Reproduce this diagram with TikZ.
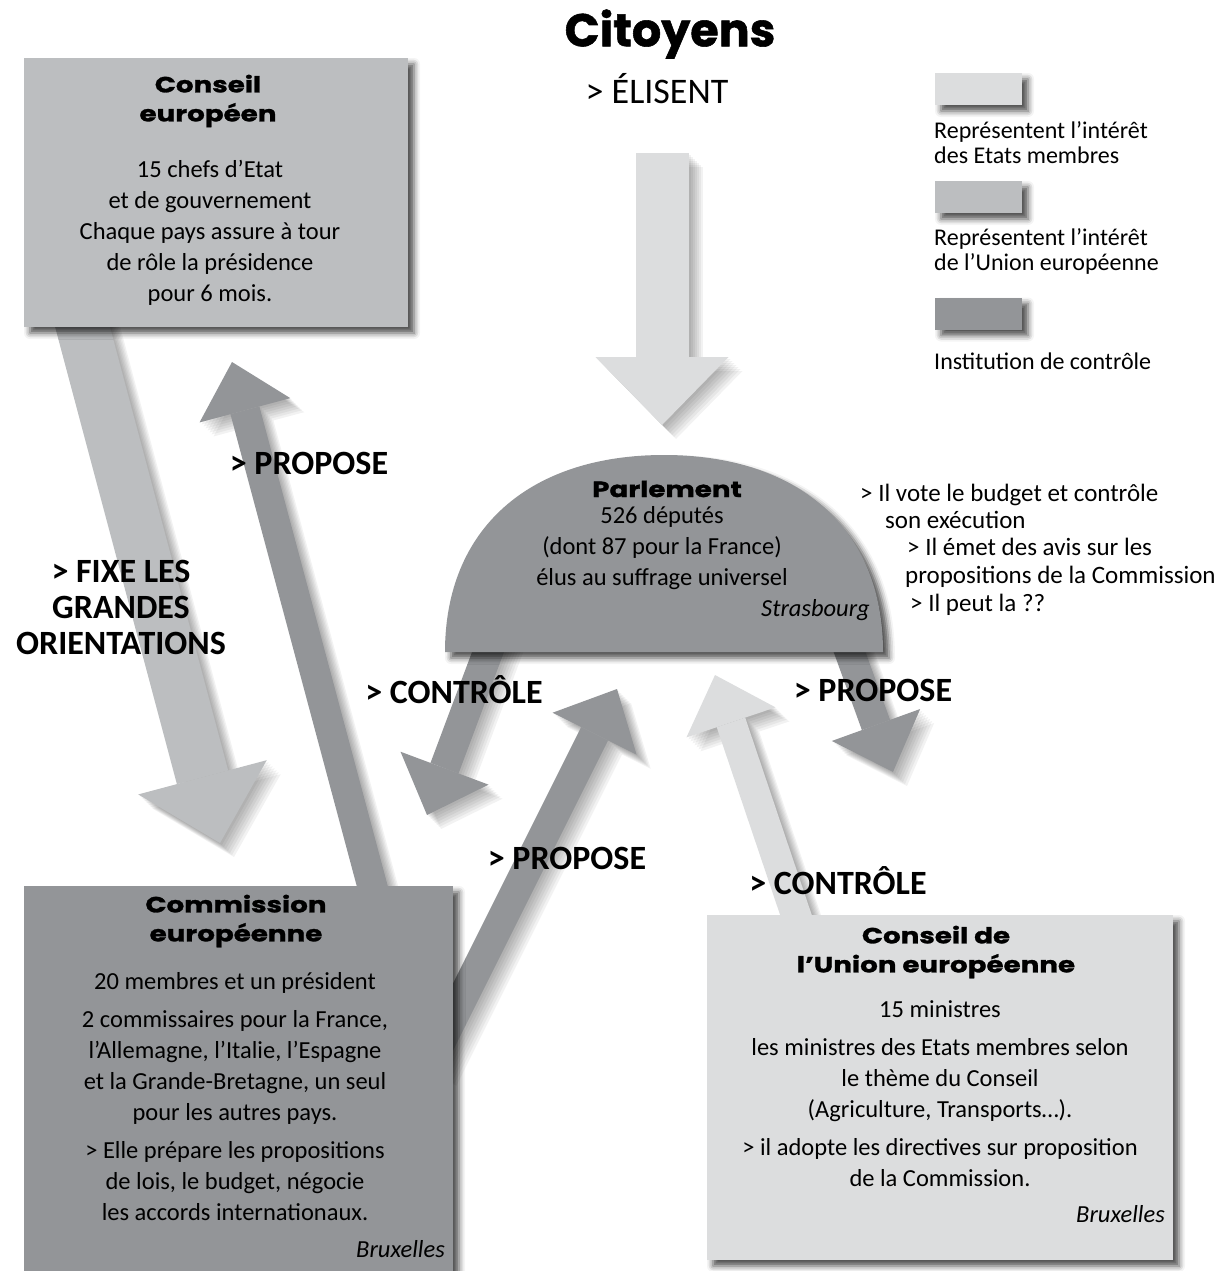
\documentclass[tikz,border=0pt]{standalone}
\usepackage{fontspec}
\setmainfont{Carlito}
\newfontfamily\headfont{Poppins}[FakeStretch=1.26, FakeBold=1.2]
\newfontfamily\titlefont{Poppins}[FakeBold=1.2]
\usetikzlibrary{arrows.meta,shadows.blur}
\definecolor{lightgrey}{HTML}{DCDDDE}
\definecolor{midgrey}{HTML}{BCBEC0}
\definecolor{darkgrey}{HTML}{939598}
\tikzset{
  boxshadow/.style={inner sep=0pt, blur shadow={shadow xshift=6pt, shadow yshift=-6pt, shadow blur radius=6pt, shadow opacity=70}},
  widearr/.style={line width=53pt, -{Triangle[width=133pt,length=68pt,line width=0pt]}},
  slimarr/.style={line width=30pt, -{Triangle[width=94pt,length=50pt,line width=0pt]}},
  headtxt/.style={inner sep=0pt, align=center, font=\headfont\bfseries\fontsize{22}{29}\selectfont},
  bodytxt/.style={inner sep=0pt, align=center, font=\fontsize{24.5}{31}\selectfont},
  placetxt/.style={inner sep=0pt, anchor=base east, font=\itshape\fontsize{24.5}{31}\selectfont},
  keytxt/.style={inner sep=0pt, anchor=west, align=left, font=\fontsize{24}{25}\selectfont},
  notetxt/.style={inner sep=0pt, anchor=base west, font=\fontsize{25}{28}\selectfont},
  lbl/.style={inner sep=0pt, align=center, font=\bfseries\fontsize{34}{36}\selectfont}
}
\begin{document}
\begin{tikzpicture}[x=1pt,y=-1pt]
\useasboundingbox (0,0) rectangle (1226,1271);
\coordinate (citA) at (662,153);
\coordinate (citB) at (662,425);
\coordinate (ceA) at (78,310);
\coordinate (ceB) at (220,843);
\coordinate (cpA) at (376,900);
\coordinate (cpB) at (232,362);
\coordinate (pcA) at (500,620);
\coordinate (pcB) at (427,815);
\coordinate (cmA) at (429,1065);
\coordinate (cmB) at (617,689);
\coordinate (ppA) at (838,620);
\coordinate (ppB) at (893,772);
\coordinate (cuA) at (801,930);
\coordinate (cuB) at (715,675);
\foreach \a/\b/\k in {citA/citB/widearr, ceA/ceB/widearr, cpA/cpB/slimarr, pcA/pcB/slimarr, cmA/cmB/slimarr, ppA/ppB/slimarr, cuA/cuB/slimarr}
  \foreach \s in {2,4,...,14}
    \draw[\k, black, opacity=0.05, transform canvas={shift={(\s pt,-\s pt)}}] (\a) -- (\b);
\draw[widearr, lightgrey] (citA) -- (citB);
\draw[widearr, midgrey] (ceA) -- (ceB);
\draw[slimarr, darkgrey] (cpA) -- (cpB);
\draw[slimarr, darkgrey] (pcA) -- (pcB);
\draw[slimarr, darkgrey] (cmA) -- (cmB);
\draw[slimarr, darkgrey] (ppA) -- (ppB);
\draw[slimarr, lightgrey] (cuA) -- (cuB);
\fill[boxshadow, darkgrey] (445,652) .. controls (445,528) and (530,455) .. (664,455) .. controls (798,455) and (883,528) .. (883,652) -- cycle;
\node[boxshadow, fill=midgrey, minimum width=384pt, minimum height=269pt] (eucouncil) at (216,192.5) {};
\node[boxshadow, fill=darkgrey, minimum width=429pt, minimum height=404pt] (commission) at (238.5,1088) {};
\node[boxshadow, fill=lightgrey, minimum width=466pt, minimum height=345pt] (uecouncil) at (940,1087.5) {};
\node[boxshadow, fill=lightgrey, minimum width=87pt, minimum height=32pt] (key1) at (978.5,89) {};
\node[boxshadow, fill=midgrey, minimum width=87pt, minimum height=32pt] (key2) at (978.5,197) {};
\node[boxshadow, fill=darkgrey, minimum width=87pt, minimum height=32pt] (key3) at (978.5,313.5) {};
\node[keytxt] (key1txt) at (934,143) {Représentent l’intérêt\\des Etats membres};
\node[keytxt] (key2txt) at (934,251.5) {Représentent l’intérêt\\de l’Union européenne};
\node[keytxt] (key3txt) at (934,361) {Institution de contrôle};
\node[inner sep=0pt, font=\titlefont\bfseries\fontsize{46}{50}\selectfont] (citoyens) at (670,34) {Citoyens};
\node[lbl, font=\fontsize{36}{38}\selectfont] (elisent) at (657,89) {> ÉLISENT};
\node[headtxt] (cehead) at (208,101) {Conseil\\européen};
\node[bodytxt] (cebody) at (210,233) {15 chefs d’Etat\\et de gouvernement\\Chaque pays assure à tour\\de rôle la présidence\\pour 6 mois.};
\node[headtxt] (parlhead) at (667,489) {Parlement};
\node[bodytxt] (parlbody) at (662,548) {526 députés\\(dont 87 pour la France)\\élus au suffrage universel};
\node[placetxt] (parlplace) at (870,616) {Strasbourg};
\node[headtxt] (cohead) at (236,921) {Commission\\européenne};
\node[bodytxt] (cobody) at (235,1097) {20 membres et un président\\[7pt]2 commissaires pour la France,\\l’Allemagne, l’Italie, l’Espagne\\et la Grande-Bretagne, un seul\\pour les autres pays.\\[7pt]> Elle prépare les propositions\\de lois, le budget, négocie\\les accords internationaux.};
\node[placetxt] (coplace) at (445,1257) {Bruxelles};
\node[headtxt] (cuhead) at (936,952) {Conseil de\\l’Union européenne};
\node[bodytxt] (cubody) at (940,1094) {15 ministres\\[7pt]les ministres des Etats membres selon\\le thème du Conseil\\(Agriculture, Transports…).\\[7pt]> il adopte les directives sur proposition\\de la Commission.};
\node[placetxt] (cuplace) at (1165,1222) {Bruxelles};
\foreach \x/\y/\t [count=\i] in {860/501/{> Il vote le budget et contrôle}, 885/528/{son exécution}, 907/555/{> Il émet des avis sur les}, 905/583/{propositions de la Commission}, 910/611/{> Il peut la ??}}
  \node[notetxt] (note\i) at (\x,\y) {\t};
\node[lbl] (proplbl1) at (309,463) {> PROPOSE};
\node[lbl] (fixlbl) at (121,607) {> FIXE LES\\GRANDES\\ORIENTATIONS};
\node[lbl] (ctrllbl1) at (454,690) {> CONTRÔLE};
\node[lbl] (proplbl2) at (873,690) {> PROPOSE};
\node[lbl] (proplbl3) at (567,858) {> PROPOSE};
\node[lbl] (ctrllbl2) at (838,881) {> CONTRÔLE};
\end{tikzpicture}
\end{document}
